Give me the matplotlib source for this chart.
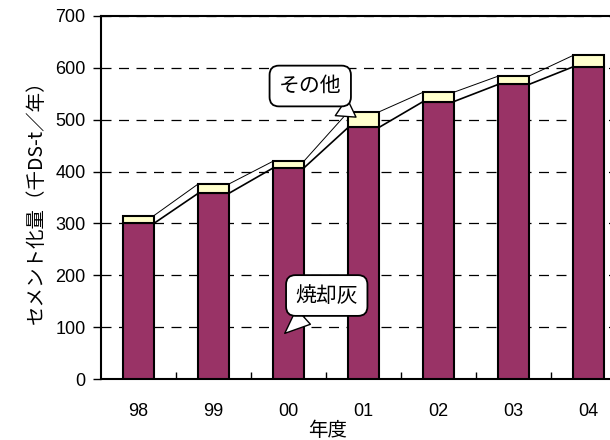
import matplotlib
matplotlib.use("Agg")
import matplotlib.pyplot as plt
import numpy as np

plt.rcParams['font.family'] = ['Noto Sans CJK JP', 'DejaVu Sans']

years = ['98', '99', '00', '01', '02', '03', '04']
ash = [300, 358, 407, 485, 535, 568, 602]      # 焼却灰
other = [15, 18, 13, 30, 18, 16, 22]           # その他

purple = '#993366'
cream = '#FFFFCC'
bar_w = 0.41

fig = plt.figure(figsize=(6.1, 4.4), dpi=100)
ax = fig.add_axes([101 / 610, 61 / 440, 525 / 610, 363 / 440])

x = np.arange(len(years))
ax.bar(x, ash, width=bar_w, color=purple, edgecolor='black', linewidth=1.5, zorder=3)
ax.bar(x, other, bottom=ash, width=bar_w, color=cream, edgecolor='black',
       linewidth=1.5, zorder=3)

# series lines between neighbouring bars
total = [a + o for a, o in zip(ash, other)]
for i in range(len(years) - 1):
    ax.plot([x[i] + bar_w / 2, x[i + 1] - bar_w / 2], [ash[i], ash[i + 1]],
            color='black', lw=1.2, zorder=2)
    ax.plot([x[i] + bar_w / 2, x[i + 1] - bar_w / 2], [total[i], total[i + 1]],
            color='black', lw=0.7, zorder=2)

ax.set_xlim(-0.5, 6.5)
ax.set_ylim(0, 700)
ax.set_yticks(range(0, 701, 100))
ax.set_xticks(x)
ax.set_xticklabels(years)
ax.set_xticks(np.arange(0.5, 6.5, 1), minor=True)
ax.tick_params(axis='x', which='major', length=0, pad=17)
ax.tick_params(axis='x', which='minor', direction='in', length=5, width=1)
ax.tick_params(axis='y', direction='out', length=6, width=1, pad=5)
for lbl in ax.get_xticklabels() + ax.get_yticklabels():
    lbl.set_fontfamily('Liberation Sans')
    lbl.set_fontsize(13)

ax.yaxis.grid(True, linestyle=(0, (8, 6)), color='black', lw=0.9)
ax.set_axisbelow(True)
for s in ax.spines.values():
    s.set_linewidth(1.5)

ax.set_ylabel('セメント化量（千DS-t／年）', fontsize=14, labelpad=6)
fig.text(328 / 610, 1 - 430 / 440, '年度', ha='center', va='center', fontsize=14)

callout = dict(boxstyle='round,pad=0.45,rounding_size=0.45', fc='white', ec='black', lw=1.3)
arrow = dict(arrowstyle='wedge,tail_width=1.0,shrink_factor=0.5', fc='white', ec='black',
             lw=1.0, shrinkA=0, shrinkB=0)
ax.annotate('その他', xy=(2.9, 505), xytext=(2.29, 565), ha='center', va='center',
            fontsize=15, bbox=callout, arrowprops=arrow, zorder=5)
ax.annotate('焼却灰', xy=(1.95, 88), xytext=(2.51, 161), ha='center', va='center',
            fontsize=15, bbox=callout, arrowprops=arrow, zorder=5)

fig.savefig('out.png', dpi=100)
